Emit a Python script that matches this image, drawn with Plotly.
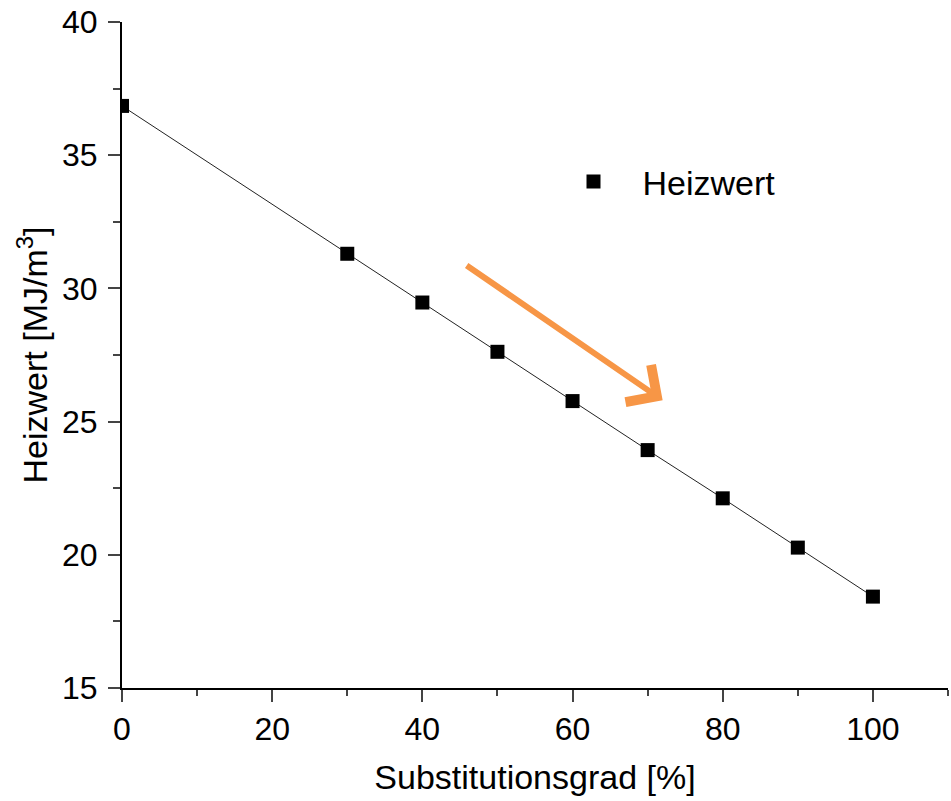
import plotly.graph_objects as go

# Data
substitution = [0, 30, 40, 50, 60, 70, 80, 90, 100]
heizwert = [36.85, 31.3, 29.47, 27.62, 25.77, 23.93, 22.12, 20.27, 18.43]
x_ticks = [0, 20, 40, 60, 80, 100]
y_ticks = [15, 20, 25, 30, 35, 40]

FONT = "Arial, 'Liberation Sans', sans-serif"

fig = go.Figure()
fig.add_trace(go.Scatter(
    x=substitution, y=heizwert, mode="lines",
    line=dict(color="#222222", width=1), showlegend=False, hoverinfo="skip"))
fig.add_trace(go.Scatter(
    x=substitution, y=heizwert, mode="markers", name="Heizwert",
    marker=dict(symbol="square", size=14, color="black", line=dict(width=0))))

fig.add_annotation(
    x=72.0, y=25.8, ax=45.7, ay=30.9, xref="x", yref="y", axref="x", ayref="y",
    text="", showarrow=True, arrowhead=4, arrowsize=1.45, arrowwidth=6,
    arrowcolor="#F79646", standoff=0)

fig.update_layout(
    width=951, height=801,
    margin=dict(l=122, r=3, t=22, b=113),
    paper_bgcolor="white", plot_bgcolor="white",
    font=dict(family=FONT, color="black", size=32),
    legend=dict(x=0.5115, y=0.76, xanchor="left", yanchor="middle",
                font=dict(size=34, family=FONT), itemwidth=88,
                bgcolor="rgba(0,0,0,0)"),
    xaxis=dict(
        range=[0, 110], tickvals=x_ticks, ticks="outside", ticklen=12, tickwidth=2,
        showline=True, linewidth=2, linecolor="black", showgrid=False, zeroline=False,
        tickfont=dict(size=32), ticklabelstandoff=0,
        minor=dict(dtick=10, ticks="outside", ticklen=6, tickwidth=2, showgrid=False),
        title=dict(text="Substitutionsgrad [%]", font=dict(size=34), standoff=19)),
    yaxis=dict(
        range=[15, 40], tickvals=y_ticks, ticks="outside", ticklen=12, tickwidth=2,
        showline=True, linewidth=2, linecolor="black", showgrid=False, zeroline=False,
        tickfont=dict(size=32), ticklabelstandoff=4,
        minor=dict(dtick=2.5, ticks="outside", ticklen=7, tickwidth=2, showgrid=False),
        title=dict(text="Heizwert [MJ/m<sup>3</sup>]", font=dict(size=34), standoff=4)),
)

fig.write_html("out.html")
